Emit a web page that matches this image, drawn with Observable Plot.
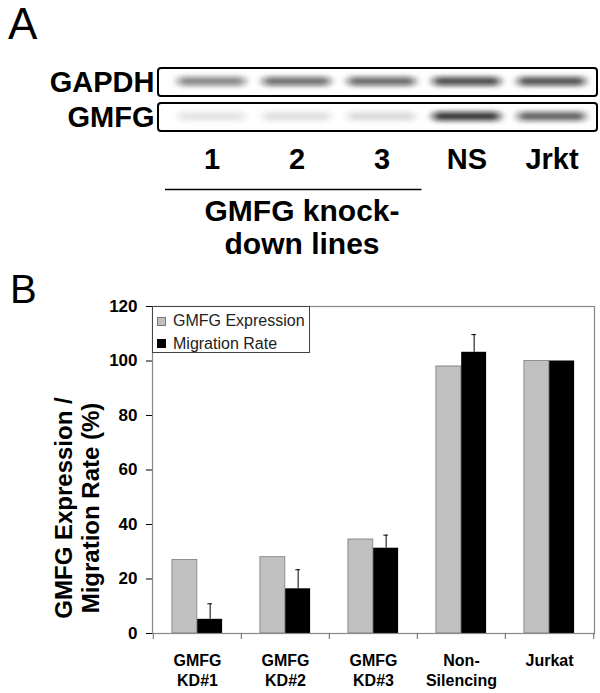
<!DOCTYPE html>
<html>
<head>
<meta charset="utf-8">
<script src="https://cdn.jsdelivr.net/npm/d3@7"></script>
<script src="https://cdn.jsdelivr.net/npm/@observablehq/plot@0.6"></script>
<style>
  html, body { margin: 0; padding: 0; background: #fff; }
  #fig { position: relative; width: 600px; height: 693px; overflow: hidden; font-family: "Liberation Sans", Arial, sans-serif; }
  #fig > * { position: absolute; }
  #fig svg { display: block; background: transparent; }
  .panel-letter { font-family: "Liberation Sans", Arial, sans-serif; font-weight: normal; line-height: 1; color: #000; }
  .legend { box-sizing: border-box; border: 1px solid #444; background: #fff; font: 16px "Liberation Sans", Arial, sans-serif; color: #222; }
  .legend .item { position: absolute; left: 4px; height: 16px; display: flex; align-items: center; white-space: nowrap; }
  .legend .sw { width: 9px; height: 9px; box-sizing: border-box; margin-right: 7px; }
</style>
</head>
<body>
<div id="fig"></div>
<script>
// ---------- Panel A data (western blot) ----------
const lanes = ["1", "2", "3", "NS", "Jrkt"];
const blotRows = ["GAPDH", "GMFG"];
const gapdhSignal = [0.52, 0.62, 0.64, 0.76, 0.74];
const gmfgSignal = [0.11, 0.13, 0.15, 0.86, 0.68];
const knockdownSpan = ["1", "3"];
const knockdownCaption = "GMFG knock-\ndown lines";

// ---------- Panel B data (bar chart) ----------
const categories = ["KD#1", "KD#2", "KD#3", "Non-Silencing", "Jurkat"];
const categoryLabels = ["GMFG\nKD#1", "GMFG\nKD#2", "GMFG\nKD#3", "Non-\nSilencing", "Jurkat"];
const gmfgExpression = [27.0, 28.0, 34.5, 98.0, 100];
const migrationRate = [5.2, 16.4, 31.3, 103.2, 100];
const migrationError = [5.7, 7.0, 4.8, 6.5, 0];
const yTicks = [0, 20, 40, 60, 80, 100, 120];
const seriesNames = ["GMFG Expression", "Migration Rate"];
const seriesColors = ["#c0c0c0", "#000000"];
const yLabel = "GMFG Expression /\nMigration Rate (%)";

const FONT = "'Liberation Sans', Arial, Helvetica, sans-serif";
const fig = document.getElementById("fig");

// ---------- Panel A: blot ----------
const bandData = [];
lanes.forEach((lane, i) => {
  bandData.push({lane, row: "GAPDH", signal: gapdhSignal[i]});
  bandData.push({lane, row: "GMFG", signal: gmfgSignal[i]});
});

const blot = Plot.plot({
  width: 600,
  height: 175,
  marginTop: 0,
  marginLeft: 158,
  marginRight: 3,
  marginBottom: 44,
  style: {fontFamily: FONT, fontSize: "29px", fontWeight: "bold", color: "#000", background: "transparent"},
  x: {type: "band", domain: lanes, range: [167, 595], padding: 0, tickSize: 0, tickPadding: 17, label: null},
  y: {type: "band", domain: blotRows, range: [67, 131], paddingInner: 0.2, paddingOuter: 0, tickSize: 0, tickPadding: 4, label: null},
  opacity: {domain: [0, 1], range: [0, 1]},
  marks: [
    Plot.cell(blotRows, {y: d => d, fill: "#fff", stroke: "#000", strokeWidth: 2, rx: 3}),
    Plot.cell(bandData, {
      x: "lane", y: "row", fill: "#111", fillOpacity: "signal",
      insetLeft: 9, insetRight: 9, insetTop: 9, insetBottom: 10.5, rx: 4,
      ariaLabel: "band"
    })
  ]
});
blot.style.left = "0px";
blot.style.top = "0px";
{
  const s = d3.select(blot);
  const f = s.insert("defs", ":first-child").append("filter")
    .attr("id", "bandblur")
    .attr("filterUnits", "userSpaceOnUse")
    .attr("x", 0).attr("y", 0).attr("width", 600).attr("height", 175);
  f.append("feGaussianBlur").attr("stdDeviation", "4.5 2.6");
  s.selectAll("rect[fill-opacity]").attr("filter", "url(#bandblur)");
}
fig.appendChild(blot);

// ---------- Panel A: bracket + caption ----------
const bracket = Plot.plot({
  width: 600,
  height: 95,
  marginTop: 0,
  marginBottom: 0,
  marginLeft: 158,
  marginRight: 3,
  style: {fontFamily: FONT, fontWeight: "bold", color: "#000", background: "transparent"},
  x: {type: "band", domain: lanes, range: [167, 595], padding: 0, axis: null},
  y: {type: "point", domain: ["bracket", "caption"], range: [9, 26], axis: null},
  marks: [
    Plot.ruleY([knockdownSpan], {x1: d => d[0], x2: d => d[1], y: () => "bracket", insetLeft: -4, insetRight: 2.5, stroke: "#000", strokeWidth: 1.3}),
    Plot.text([knockdownCaption], {x: () => "2", y: () => "caption", dx: 5, lineAnchor: "top", fontSize: 30, fontWeight: "bold", lineHeight: 1.1, fill: "#000"})
  ]
});
bracket.style.left = "0px";
bracket.style.top = "175px";
fig.appendChild(bracket);

// ---------- Panel B: bar chart ----------
const barRows = categories.map((cat, i) => ({
  cat, label: categoryLabels[i], expr: gmfgExpression[i], mig: migrationRate[i], err: migrationError[i]
}));
const errRows = barRows.filter(d => d.err > 0);

const mLeft = 152, mRight = 6;
const bw = (600 - mLeft - mRight) / categories.length;
const barW = 25.3;
const side = (bw - 2 * barW) / 2;
const capHalf = 2.5;

const bars = Plot.plot({
  width: 600,
  height: 423,
  marginTop: 36,
  marginBottom: 60,
  marginLeft: mLeft,
  marginRight: mRight,
  style: {fontFamily: FONT, fontSize: "17px", fontWeight: "bold", color: "#000", background: "transparent"},
  x: {type: "band", domain: categories, padding: 0, axis: null},
  y: {domain: [0, 120], ticks: yTicks, tickSize: 6, tickPadding: 9, label: null},
  marks: [
    Plot.barY(barRows, {x: "cat", y: "expr", fill: seriesColors[0], stroke: "#7a7a7a", strokeWidth: 0.8, insetLeft: side, insetRight: side + barW}),
    Plot.barY(barRows, {x: "cat", y: "mig", fill: seriesColors[1], insetLeft: side + barW, insetRight: side}),
    Plot.ruleX(errRows, {x: "cat", y1: "mig", y2: d => d.mig + d.err, dx: barW / 2, stroke: "#000", strokeWidth: 1}),
    Plot.tickY(errRows, {x: "cat", y: d => d.mig + d.err, insetLeft: side + barW + barW / 2 - capHalf, insetRight: side + barW / 2 - capHalf, stroke: "#000", strokeWidth: 1}),
    Plot.frame({stroke: "#888", strokeWidth: 1.2}),
    Plot.ruleX(categories, {x: d => d, y1: 0, y2: 0, dx: -bw / 2, insetBottom: -6, stroke: "#666"}),
    Plot.ruleX(categories.slice(-1), {x: d => d, y1: 0, y2: 0, dx: bw / 2, insetBottom: -6, stroke: "#666"}),
    Plot.text(barRows, {x: "cat", text: "label", frameAnchor: "bottom", lineAnchor: "top", dy: 18, fontSize: 16, lineHeight: 1.25, fill: "#000"}),
    Plot.text([yLabel], {frameAnchor: "left", textAnchor: "middle", rotate: -90, dx: -75.5, dy: 38, fontSize: 24, lineHeight: 1.13, fill: "#000"})
  ]
});
bars.style.left = "0px";
bars.style.top = "270px";
fig.appendChild(bars);

// ---------- Legend (inside plot area, top-left) ----------
const legend = document.createElement("div");
legend.className = "legend";
Object.assign(legend.style, {left: "152px", top: "306px", width: "158px", height: "47px"});
seriesNames.forEach((name, i) => {
  const item = document.createElement("div");
  item.className = "item";
  item.style.top = (i === 0 ? 6 : 28.5) + "px";
  const sw = document.createElement("span");
  sw.className = "sw";
  sw.style.background = seriesColors[i];
  sw.style.border = "1px solid " + (i === 0 ? "#777" : "#000");
  const tx = document.createElement("span");
  tx.textContent = name;
  item.appendChild(sw);
  item.appendChild(tx);
  legend.appendChild(item);
});
fig.appendChild(legend);

// ---------- Panel letters ----------
[["A", 44, 2, 8], ["B", 40, 269, 10]].forEach(([t, size, top, left]) => {
  const el = document.createElement("div");
  el.className = "panel-letter";
  el.textContent = t;
  Object.assign(el.style, {fontSize: size + "px", top: top + "px", left: left + "px"});
  fig.appendChild(el);
});
</script>
</body>
</html>
